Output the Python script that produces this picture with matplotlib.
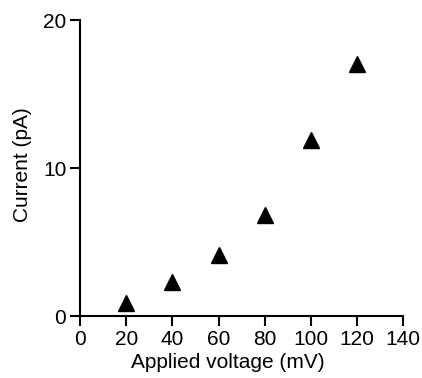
import matplotlib
matplotlib.use("Agg")
import matplotlib.pyplot as plt

# applied voltage (mV) and measured current (pA)
voltage = [20, 40, 60, 80, 100, 120]
current = [0.9, 2.3, 4.1, 6.8, 11.9, 17.0]

xticks = [0, 20, 40, 60, 80, 100, 120, 140]
yticks = [0, 10, 20]

plt.rcParams['font.family'] = ['Liberation Sans', 'DejaVu Sans']

fig = plt.figure(figsize=(4.22, 3.78), dpi=100)
ax = fig.add_axes([0.19, 0.164, 0.765, 0.783])

ax.plot(voltage, current, linestyle='none', marker='^', color='black', markersize=12)

ax.set_xlim(0, 140)
ax.set_ylim(0, 20)
ax.set_xticks(xticks)
ax.set_yticks(yticks)
ax.spines['top'].set_visible(False)
ax.spines['right'].set_visible(False)
for s in ['left', 'bottom']:
    ax.spines[s].set_linewidth(1.5)
ax.tick_params(direction='out', length=7, width=1.5, labelsize=15, pad=3)
ax.set_xlabel('Applied voltage (mV)', fontsize=15)
ax.set_ylabel('Current (pA)', fontsize=15)
# label positions are a bit off-centre in the original
ax.xaxis.set_label_coords(0.458, -0.125)
ax.yaxis.set_label_coords(-0.15, 0.51)

fig.savefig('out.png', dpi=100)
